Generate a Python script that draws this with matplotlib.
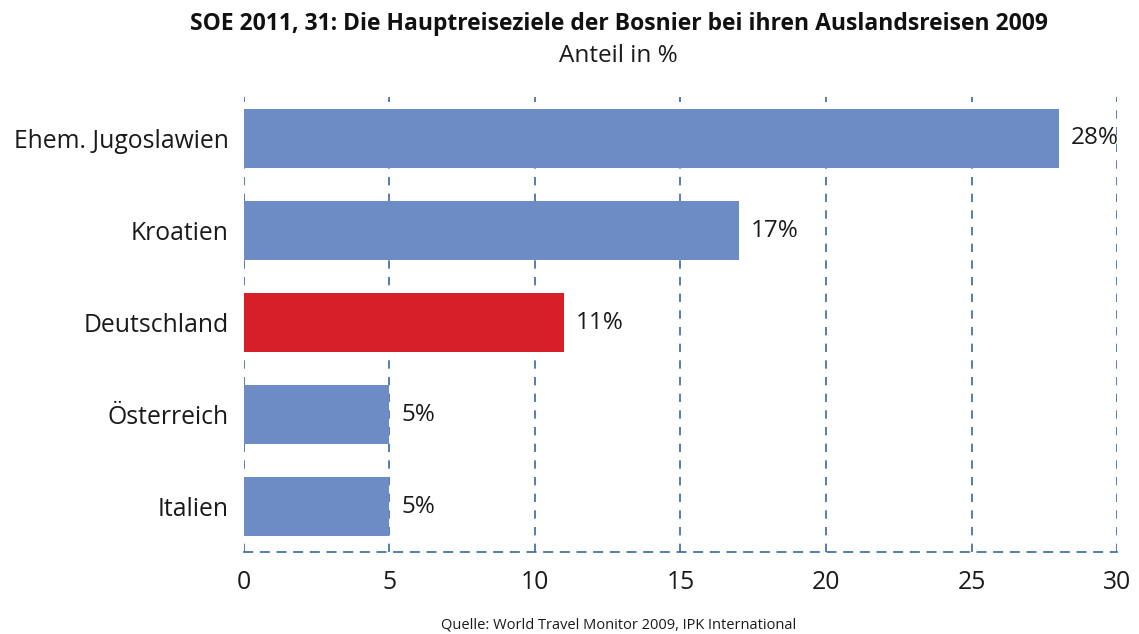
import matplotlib
matplotlib.use("Agg")
import matplotlib.pyplot as plt

categories = ["Ehem. Jugoslawien", "Kroatien", "Deutschland", "Österreich", "Italien"]
values = [28, 17, 11, 5, 5]
labels = ["28%", "17%", "11%", "5%", "5%"]
colors = ["#6d8cc5", "#6d8cc5", "#d71f29", "#6d8cc5", "#6d8cc5"]
xticks = [0, 5, 10, 15, 20, 25, 30]

plt.rcParams['font.family'] = ['Open Sans', 'DejaVu Sans']

fig = plt.figure(figsize=(11.39, 6.34), dpi=100)
ax = fig.add_axes([0.2142, 0.1293, 0.7665, 0.7177])

ypos = list(range(len(categories)))
ax.barh(ypos, values, height=0.64, color=colors, zorder=3)
for y, v, l in zip(ypos, values, labels):
    ax.text(v + 0.4, y, l, va='center', ha='left', fontsize=17.5, color='#1a1a1a')

ax.set_xlim(0, 30)
ax.set_ylim(4.49, -0.45)
ax.set_yticks(ypos)
ax.set_yticklabels(categories, fontsize=17.8, color='#1a1a1a')
ax.set_xticks(xticks)
ax.set_xticklabels([str(t) for t in xticks], fontsize=17.8, color='#1a1a1a')
ax.tick_params(length=0, pad=11)
ax.tick_params(axis='x', pad=13)

for s in ['top', 'right', 'left']:
    ax.spines[s].set_visible(False)
ax.spines['bottom'].set_color('#3a67a0')
ax.spines['bottom'].set_linestyle((0, (5, 5)))
ax.spines['bottom'].set_linewidth(1.2)

for t in xticks:
    ax.axvline(t, color='#3a67a0', linestyle=(0, (5, 5)), linewidth=1.2, zorder=1)

cx = 0.543
fig.text(cx, 0.962, "SOE 2011, 31: Die Hauptreiseziele der Bosnier bei ihren Auslandsreisen 2009",
         ha='center', va='center', fontsize=16.5, fontweight='bold', color='#111111')
fig.text(cx, 0.912, "Anteil in %", ha='center', va='center', fontsize=17.5, color='#1a1a1a')
fig.text(cx, 0.003, "Quelle: World Travel Monitor 2009, IPK International",
         ha='center', va='bottom', fontsize=10.5, color='#1a1a1a')

fig.savefig("out.png", dpi=100)
